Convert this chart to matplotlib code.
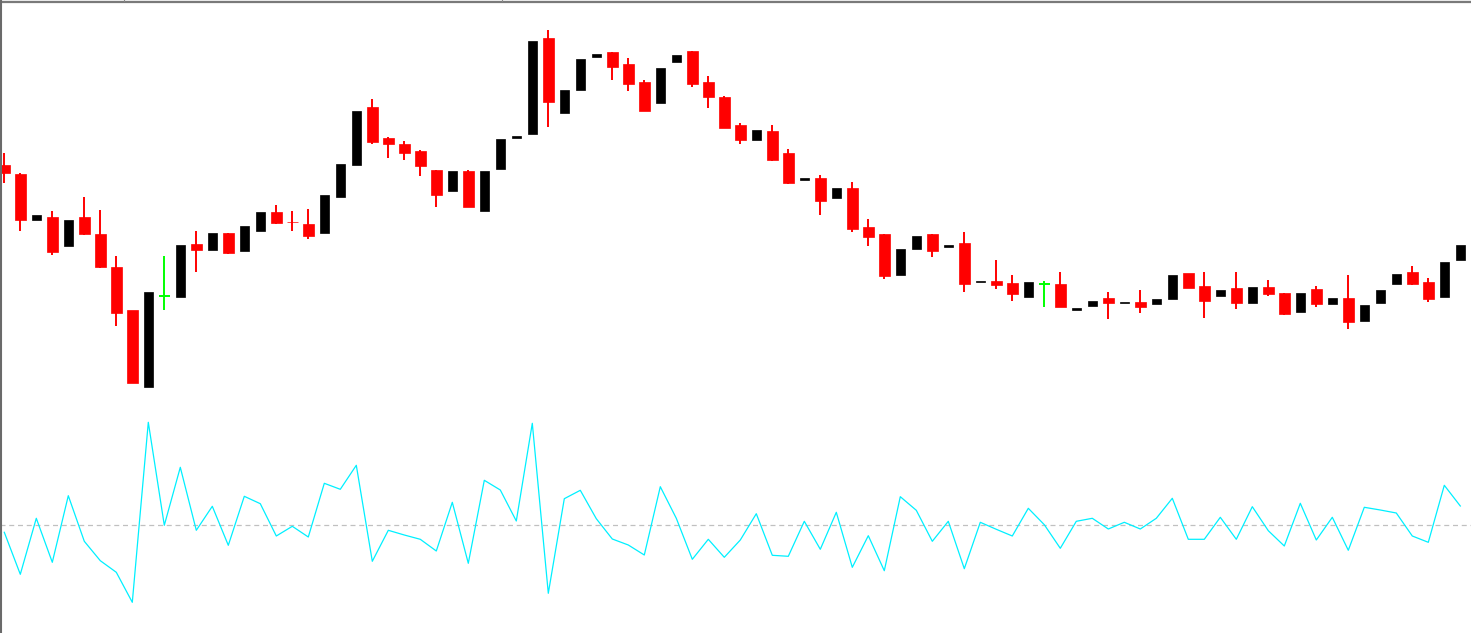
import matplotlib
matplotlib.use('Agg')
import matplotlib.pyplot as plt
from matplotlib.lines import Line2D
import numpy as np

# OHLC prices (arbitrary points), one per bar
opens = [235, 226, 180.3, 183, 154.3, 183, 166, 133, 90, 13.3,
         104, 103.3, 156, 150.3, 167, 149.3, 169.3, 188, 178.3, 176,
         167.3, 203.3, 235.3, 293, 262, 256, 249, 230, 209.3, 229,
         189.3, 231.3, 262.3, 266.3, 362, 287.3, 310.3, 343.3, 348, 336,
         318, 297.3, 338.3, 349, 318, 303, 275, 260.3, 269, 247,
         220.3, 222, 202.3, 212, 173, 166, 125.3, 151.3, 166, 153.3,
         157, 118, 119, 117, 103.3, 116, 116, 90.3, 94.3, 102,
         97.3, 98, 96.3, 101.3, 127, 114, 104.3, 112, 97.3, 113,
         107, 88.3, 111, 96.3, 102, 79.3, 97.3, 116.3, 128, 118,
         103.3, 140.3]
highs = [247, 227, 185, 189.3, 180, 203, 190, 144, 90, 108,
         144, 155, 169, 167, 167, 174, 188, 195, 189, 191,
         205, 236, 289, 301, 263, 259, 250, 230, 229, 230,
         229, 261, 264, 359, 370, 310, 341, 346, 348, 342,
         320, 332, 345, 349, 324, 304, 277, 270, 275, 251,
         222, 225, 212, 218, 181, 166, 151, 164, 166, 155,
         168, 119, 140, 125, 118, 119, 128, 92, 99, 108.3,
         98, 110.3, 101, 125, 127, 128, 110, 128, 113, 120,
         107, 107, 114, 102, 125, 95, 110, 126, 134, 122,
         138, 155]
lows = [217.3, 169.3, 180.3, 145, 154.3, 165, 132.3, 74.3, 17.3, 13.3,
        90.3, 103.3, 128.3, 150.3, 146, 149.3, 169.3, 175.7, 169.3, 161.3,
        167.3, 203.3, 235.3, 256, 242.3, 240, 224.3, 193.3, 209.3, 193.3,
        189.3, 231.3, 262.3, 266.3, 273.3, 287.3, 310.3, 343.3, 320.3, 309.3,
        289.3, 297.3, 338.3, 313.3, 292.3, 272.3, 256.3, 260.3, 239.3, 216.3,
        220.3, 185.3, 202.3, 168.3, 154.3, 121.3, 125.3, 151.3, 143.3, 153.3,
        108.3, 118, 111.3, 99.3, 103.3, 93.3, 93.3, 90.3, 94.3, 81,
        97.3, 87, 96.3, 101.3, 112.3, 82.3, 104.3, 91.3, 97.3, 104.3,
        85.3, 88.3, 93.3, 96.3, 71.3, 79.3, 97.3, 116.3, 115, 98.3,
        103.3, 140.3]
closes = [227.3, 180.3, 185, 148.3, 180, 166.3, 133.3, 87.3, 17.3, 108,
          104, 155, 150.3, 167, 147.3, 174, 188, 177.3, 177.7, 164.3,
          205, 236, 289, 258.3, 256.3, 247.3, 234.3, 205.3, 229, 193.3,
          229, 261, 264, 359, 298.3, 310, 341, 346, 333.3, 316.3,
          289.3, 332, 345, 316.3, 303.3, 272.3, 260.3, 270, 240.3, 217.3,
          222, 199.3, 212, 171.3, 163.3, 124.3, 151, 164, 149.3, 155,
          116.3, 119, 115.3, 106.3, 118, 116, 93.3, 92, 99, 97.3,
          98, 93.3, 101, 125, 112.3, 99.3, 110, 97.3, 113, 106.3,
          86.3, 107, 96.3, 102, 78.3, 95, 110, 126, 116.3, 101.3,
          138, 155]

# oscillator in the lower window
osc = [-7, -49, 7, -37, 29.6, -16, -35.4, -47, -77, 103,
       0, 58, -5, 19, -20, 29, 21.6, -10.7, -1, -11.7,
       42, 36, 60, -36, -5, -9.7, -14, -25.7, 23, -38,
       45, 35.3, 4.3, 102, -68, 26.6, 35, 6.6, -13.7, -19.7,
       -29.7, 38.6, 7, -34, -14, -32, -14.7, 11.6, -30, -31,
       4, -24, 13, -42, -10.4, -45.4, 28.6, 15, -16, 4,
       -43.4, 3, -4, -10.7, 17, 0.6, -23, 4, 7, -3.7,
       3, -3.7, 7, 27, -14, -14, 8, -14, 18.6, -5.4,
       -20.7, 22, -14.7, 8, -25, 18, 15.3, 12.3, -10.7, -17,
       40, 19.3]

W, H = 1471, 633
fig = plt.figure(figsize=(W / 100, H / 100), dpi=100)
fig.patch.set_facecolor('white')

ax = fig.add_axes([0, (H - 405) / H, 1, (405 - 3) / H])
ax2 = fig.add_axes([0, 0, 1, (H - 405) / H])

x = np.arange(len(opens))
xlim = (-4.3 / 16, (W - 4.3) / 16)

wick_lw = 1.4
for i in x:
    o, h, l, c = opens[i], highs[i], lows[i], closes[i]
    if c > o:
        col, w = 'black', 0.56
    elif c < o:
        col, w = '#ff0000', 0.69
    else:
        col, w = '#00ff00', 0.69
    if h > max(o, c) or l < min(o, c):
        ax.vlines(i, l, h, color=col, lw=wick_lw, zorder=2)
    if c == o:
        ax.hlines(o, i - w / 2, i + w / 2, color=col, lw=wick_lw, zorder=3)
    else:
        ax.bar(i, abs(c - o), bottom=min(o, c), width=w, color=col,
               edgecolor=col, linewidth=0.5, zorder=3)

ax.set_xlim(xlim)
ax.set_ylim(-5, 397)
ax.axis('off')

ax2.axhline(0, color='#c0c0c0', lw=0.9, ls=(0, (4, 3)), zorder=1)
ax2.plot(x, osc, color='#00f0ff', lw=0.9, zorder=2)
ax2.set_xlim(xlim)
ax2.set_ylim(-107.7, 120.3)
ax2.axis('off')

# window frame
fig.add_artist(Line2D([0, 1], [1 - 0.5 / H] * 2, transform=fig.transFigure, color='#d8d8d8', lw=1))
fig.add_artist(Line2D([0, 1], [1 - 2 / H] * 2, transform=fig.transFigure, color='#7a7a7a', lw=1.6))
fig.add_artist(Line2D([0.7 / W] * 2, [0, 1], transform=fig.transFigure, color='#6a6a6a', lw=1.5))
for sx in (124, 502):
    fig.add_artist(Line2D([sx / W] * 2, [1 - 1 / H, 1], transform=fig.transFigure, color='#8a8a8a', lw=0.8))

fig.savefig('out.png', dpi=100)
